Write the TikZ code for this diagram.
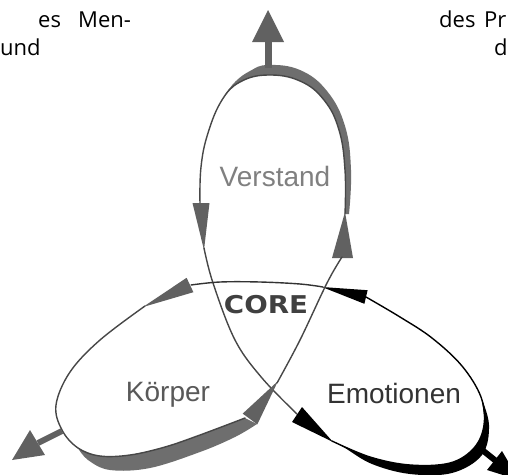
\documentclass[tikz,border=0pt]{standalone}
\usepackage{fontspec}
\setmainfont{Liberation Sans}
\newfontfamily\pagefont{Open Sans}
\newfontfamily\corefont{DejaVu Sans}
\begin{document}
\begin{tikzpicture}[x=1pt,y=-1pt,
  thinline/.style={line width=1.4pt,line join=round,line cap=round},
  graythin/.style={thinline,draw=black!72},
  blackthin/.style={thinline,draw=black},
  grayband/.style={fill=black!57},
  blackband/.style={fill=black},
  grayhead/.style={fill=black!62},
  blackhead/.style={fill=black},
  label/.style={anchor=base,inner sep=0pt,font=\fontsize{28}{28}\selectfont},
  pagetext/.style={anchor=base west,inner sep=0pt,font=\pagefont\fontsize{22}{24}\selectfont}]
\useasboundingbox (0,0) rectangle (508,474);
\clip (0,0) rectangle (508,474);
\fill[white] (0,0) rectangle (508,474);

% clipped page text
\node[pagetext] (t1) at (38,27) {es};
\node[pagetext] (t2) at (78,27) {Men-};
\node[pagetext] (t3) at (0,55) {und};
\node[pagetext] (t4) at (439,27) {des};
\node[pagetext] (t5) at (484,27) {Pr};
\node[pagetext] (t6) at (494,55) {d};

% ---------- top lobe (Verstand) ----------
\fill[grayband] plot[smooth,tension=0.7] coordinates {(345,214) (345,170) (339,130) (324,100) (300,81) (268,75) (240,82) (222,100)}
  -- plot[smooth,tension=0.7] coordinates {(222,100) (234,83) (250,71) (268,65) (300,70) (327,91) (345,126) (351,170) (349,214)} -- cycle;
\draw[graythin] plot[smooth,tension=0.7] coordinates {(345,214) (345,170) (339,130) (324,100) (300,81) (268,75) (240,82) (222,100) (208,133) (201,167) (200,204)};
% top outward arrow
\fill[grayhead] (264.5,42) rectangle (271.5,68);
\fill[grayhead] (268,10) -- (252,42) -- (284,42) -- cycle;
% down arrow on left strand
\fill[grayhead] (192.5,203) -- (209.5,203) -- (204,250) -- cycle;
\draw[graythin] plot[smooth,tension=0.6] coordinates {(204,248) (213,283) (235,340) (262,378) (297,414)};
% up arrow on right strand
\fill[grayhead] (332,258) -- (353,258) -- (345,212) -- cycle;

% ---------- right lobe (Emotionen) ----------
\fill[blackhead] (292,422) -- (302,407) -- (333,442) -- cycle;
\fill[blackband] plot[smooth,tension=0.6] coordinates {(332,441) (370,457) (410,465) (450,463) (474,448) (484,425) (481,397)}
  -- plot[smooth,tension=0.6] coordinates {(481,397) (489,425) (482,455) (452,473) (410,474) (372,464) (345,448) (332,441)} -- cycle;
\draw[blackthin] plot[smooth,tension=0.6] coordinates {(332,441) (370,457) (410,465) (450,463) (474,448) (484,425) (481,397) (462,366) (432,338) (400,317) (366,297)};
\fill[blackhead] (367.6,290.2) -- (364.4,303.8) -- (322,287) -- cycle;
% right outward arrow
\draw[black,line width=6pt] (481,449) -- (496,461);
\fill[blackhead] (502,451) -- (487,470) -- (519,480) -- cycle;

% horizontal strand over CORE
\draw[thinline,draw=black!80] plot[smooth,tension=0.6] coordinates {(323,287) (300,284) (260,282) (220,282) (191,285)};

% ---------- left lobe (Koerper) ----------
\fill[grayhead] (186.6,277.8) -- (193.4,292.2) -- (143,307) -- cycle;
\fill[grayband] plot[smooth,tension=0.6] coordinates {(78,448) (100,456) (130,455) (165,447) (200,435) (245,418)}
  -- plot[smooth,tension=0.6] coordinates {(257,424) (235,437) (200,452) (150,468) (110,470) (88,460) (78,448)} -- cycle;
\draw[graythin] plot[smooth,tension=0.6] coordinates {(145,306) (100,340) (70,372) (56,405) (62,430) (78,448) (100,456) (130,455) (165,447) (200,435) (245,418)};
% left outward arrow
\draw[black!62,line width=6pt] (62,431) -- (38,443);
\fill[grayhead] (30,430) -- (45,455) -- (12,460) -- cycle;
% up-right arrow
\fill[grayhead] (242.7,413.6) -- (257.3,424.4) -- (278,381) -- cycle;
\draw[graythin] plot[smooth,tension=0.6] coordinates {(277,383) (300,340) (327,283) (342,257)};

% ---------- labels ----------
\node[label,text=black!50] (verstand) at (275,186) {Verstand};
\node[label,text=black!65] (koerper) at (168,401) {Körper};
\node[label,text=black!80] (emotionen) at (394,403) {Emotionen};
\node[anchor=base,inner sep=0pt,text=black!75,font=\corefont\bfseries\fontsize{24.5}{25}\selectfont,xscale=1.13] (core) at (266,313) {CORE};
\end{tikzpicture}
\end{document}
